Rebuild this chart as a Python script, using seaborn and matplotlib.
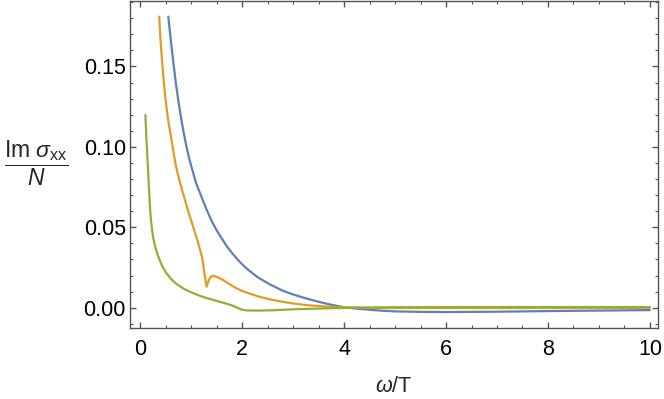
import matplotlib
matplotlib.use("Agg")
import matplotlib.pyplot as plt
from matplotlib.ticker import MultipleLocator, FormatStrFormatter
import seaborn as sns
import pandas as pd

# curves (omega/T, Im sigma_xx / N)
blue_w = [0.55, 0.60, 0.65, 0.70, 0.75, 0.80, 0.85, 0.90, 0.95, 1.00, 1.10, 1.20,
          1.30, 1.40, 1.50, 1.60, 1.70, 1.80, 1.95, 2.10, 2.30, 2.54, 2.80, 3.00,
          3.25, 3.52, 3.75, 4.00, 4.25, 4.50, 4.75, 5.00, 5.50, 6.00, 7.00, 8.00,
          9.00, 10.0]
blue_y = [0.181, 0.166, 0.152, 0.139, 0.128, 0.118, 0.109, 0.101, 0.094, 0.088, 0.077, 0.069,
          0.061, 0.054, 0.048, 0.043, 0.038, 0.034, 0.0285, 0.024, 0.019, 0.0145, 0.0105, 0.0082,
          0.0058, 0.0035, 0.0018, 0.0003, -0.0006, -0.0013, -0.0019, -0.0023, -0.0026, -0.0027, -0.0025, -0.0021,
          -0.0018, -0.0015]

orange_w = [0.37, 0.40, 0.44, 0.48, 0.52, 0.56, 0.61, 0.66, 0.70, 0.76, 0.84, 0.94,
            1.04, 1.12, 1.19, 1.22, 1.26, 1.30, 1.35, 1.40, 1.46, 1.53, 1.65, 1.86,
            2.00, 2.15, 2.35, 2.54, 2.80, 3.00, 3.30, 3.60, 4.00, 4.50, 5.00, 7.00,
            10.0]
orange_y = [0.181, 0.165, 0.148, 0.134, 0.123, 0.114, 0.105, 0.095, 0.088, 0.080, 0.071, 0.060,
            0.050, 0.042, 0.034, 0.030, 0.021, 0.013, 0.0175, 0.0198, 0.0195, 0.0188, 0.0167, 0.0125,
            0.0104, 0.0087, 0.0067, 0.0052, 0.0036, 0.0026, 0.0015, 0.0008, 0.0002, -0.0001, -0.0002, -0.0002,
            -0.0001]

green_w = [0.10, 0.12, 0.137, 0.155, 0.17, 0.185, 0.20, 0.225, 0.25, 0.29, 0.35, 0.42,
           0.50, 0.60, 0.70, 0.85, 1.00, 1.15, 1.30, 1.50, 1.69, 1.80, 1.90, 2.00,
           2.10, 2.30, 2.60, 3.00, 3.65, 4.20, 5.00, 7.00, 10.0]
green_y = [0.1198, 0.105, 0.095, 0.084, 0.0742, 0.065, 0.0576, 0.050, 0.044, 0.038, 0.032, 0.0265,
           0.022, 0.018, 0.015, 0.0118, 0.0095, 0.0076, 0.006, 0.0042, 0.0025, 0.0014, 0.0, -0.0013,
           -0.0017, -0.0018, -0.0016, -0.001, -0.0004, 0.0, 0.0003, 0.0004, 0.0004]

colors = ["#5E81B5", "#E19C24", "#8FB032"]

df = pd.concat([
    pd.DataFrame({"w": blue_w, "im": blue_y, "curve": "a"}),
    pd.DataFrame({"w": orange_w, "im": orange_y, "curve": "b"}),
    pd.DataFrame({"w": green_w, "im": green_y, "curve": "c"}),
])

sns.set_style("ticks")
plt.rcParams["font.family"] = ["Liberation Sans", "DejaVu Sans"]
plt.rcParams["mathtext.fontset"] = "custom"
plt.rcParams["mathtext.rm"] = "Liberation Sans"
plt.rcParams["mathtext.it"] = "Liberation Sans:italic"

fig = plt.figure(figsize=(6.64, 3.99), dpi=100)
ax = fig.add_axes([0.1958, 0.1787, 0.7956, 0.8188])

sns.lineplot(data=df, x="w", y="im", hue="curve", palette=colors,
             linewidth=1.6, legend=False, ax=ax)

ax.set_xlim(-0.202, 10.165)
ax.set_ylim(-0.01244, 0.1907)
ax.xaxis.set_major_locator(MultipleLocator(2))
ax.xaxis.set_minor_locator(MultipleLocator(0.5))
ax.yaxis.set_major_locator(MultipleLocator(0.05))
ax.yaxis.set_minor_locator(MultipleLocator(0.01))
ax.yaxis.set_major_formatter(FormatStrFormatter("%.2f"))

for s in ax.spines.values():
    s.set_color("#555555")
    s.set_linewidth(1.0)
ax.tick_params(which="both", direction="in", top=True, right=True,
               color="#555555", labelsize=15.5, labelcolor="black")
ax.tick_params(which="major", length=4.5, width=1.0)
ax.tick_params(which="minor", length=2.5, width=0.8)
ax.tick_params(axis="x", pad=8)
ax.tick_params(axis="y", pad=3)

ax.set_xlabel(r"$\omega$/T", fontsize=15.5, labelpad=12)
ax.set_ylabel(r"$\dfrac{\mathrm{Im}\ \sigma_{\mathrm{xx}}}{N}$", fontsize=16.5,
              rotation=0, ha="center", va="center")
ax.yaxis.set_label_coords(-0.178, 0.504)

fig.savefig("out.png", dpi=100)
